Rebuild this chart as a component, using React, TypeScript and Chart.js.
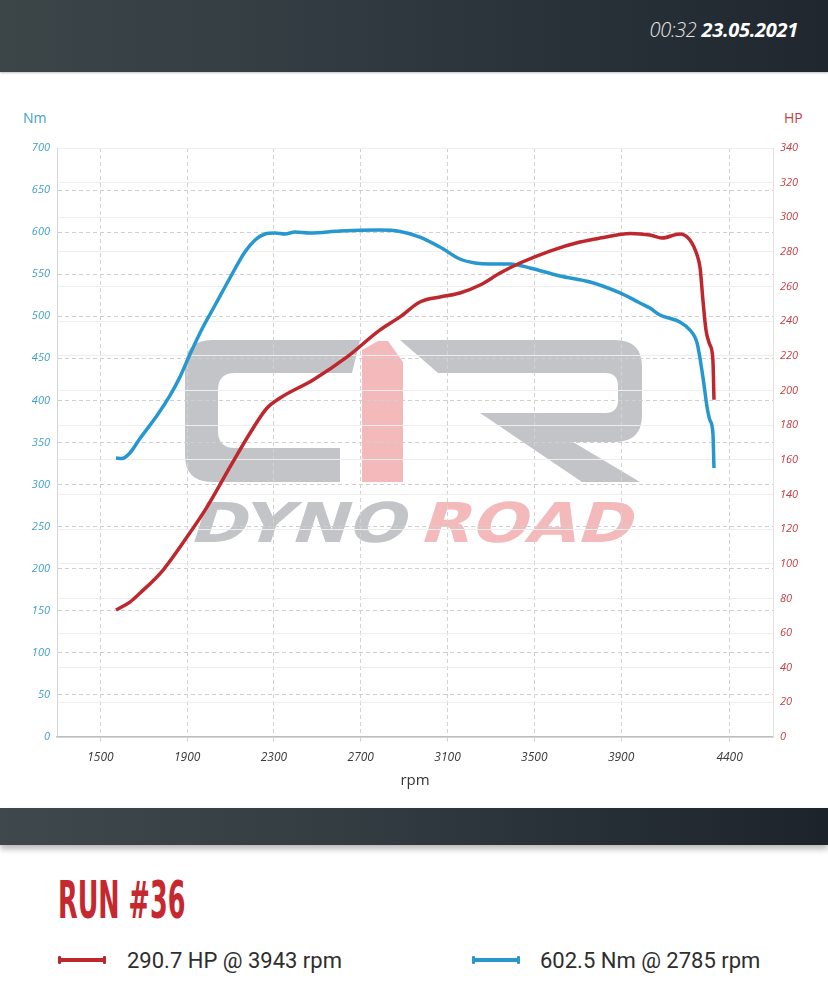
import React, { useEffect, useRef } from "react";
import { Chart, registerables } from "chart.js";

Chart.register(...registerables);

// ---- data ----
const torqueRpm = [1572, 1600, 1636, 1683, 1761, 1821, 1867, 1913, 1973, 2029, 2097, 2166, 2213, 2259, 2305, 2351, 2397, 2466, 2604, 2785, 2881, 2973, 3065, 3157, 3227, 3296, 3388, 3480, 3618, 3757, 3895, 3987, 4033, 4079, 4171, 4217, 4250, 4277, 4296, 4309, 4323, 4328];
const torqueNm = [331.6, 331.0, 337.5, 355.0, 382.0, 406.0, 428.0, 455.0, 487.3, 513.4, 545.5, 576.4, 590.7, 597.8, 599.0, 597.8, 600.2, 599.0, 601.4, 602.5, 600.8, 594.2, 582.3, 568.1, 563.3, 562.1, 562.1, 557.4, 547.9, 540.7, 527.7, 515.8, 509.8, 501.5, 493.2, 483.7, 468.2, 427.8, 392.2, 376.7, 361.3, 319.7];

const powerRpm = [1572, 1636, 1683, 1789, 1899, 1991, 2097, 2190, 2268, 2328, 2480, 2637, 2789, 2881, 2973, 3065, 3157, 3250, 3342, 3434, 3572, 3710, 3803, 3943, 4033, 4088, 4171, 4217, 4250, 4264, 4277, 4291, 4309, 4323, 4328];
const powerHp = [73.3, 77.9, 83.1, 96.4, 115.4, 132.7, 155.8, 175.5, 189.9, 195.7, 206.1, 219.4, 235.0, 242.5, 251.1, 254.0, 256.3, 260.9, 267.8, 273.6, 280.5, 285.7, 288.0, 290.7, 289.8, 288.0, 290.4, 286.9, 278.2, 270.7, 252.3, 235.0, 226.4, 217.7, 194.7];

const rpmTicks = [1500, 1900, 2300, 2700, 3100, 3500, 3900, 4400];
const rpmRange = [1300, 4600];
const nmRange = [0, 700];
const nmStep = 50;
const hpRange = [0, 340];
const hpStep = 20;

const runTitle = "RUN #36";
const runTime = "00:32";
const runDate = "23.05.2021";
const hpLegend = "290.7 HP @ 3943 rpm";
const nmLegend = "602.5 Nm @ 2785 rpm";

const BLUE = "#2797d0";
const RED = "#bd272d";
const BLUE_TXT = "#3f9fc9";
const RED_TXT = "#bf3f44";

const CANVAS_TOP = 100;

const logoPlugin = {
  id: "dynoLogo",
  beforeDraw(chart: any) {
    const ctx: CanvasRenderingContext2D = chart.ctx;
    const oy = -CANVAS_TOP;
    const gray = "#c3c4c8";
    const pink = "#f4b9ba";
    ctx.save();
    ctx.translate(0, oy);
    // C
    ctx.fillStyle = gray;
    ctx.beginPath();
    ctx.moveTo(360, 340);
    ctx.lineTo(212, 340);
    ctx.quadraticCurveTo(185, 340, 185, 367);
    ctx.lineTo(185, 455);
    ctx.quadraticCurveTo(185, 482, 212, 482);
    ctx.lineTo(340, 482);
    ctx.lineTo(340, 448);
    ctx.lineTo(235, 448);
    ctx.quadraticCurveTo(218, 448, 218, 431);
    ctx.lineTo(218, 390);
    ctx.quadraticCurveTo(218, 373, 235, 373);
    ctx.lineTo(352, 373);
    ctx.closePath();
    ctx.fill();
    // R
    ctx.beginPath();
    ctx.moveTo(400, 340);
    ctx.lineTo(615, 340);
    ctx.quadraticCurveTo(642, 340, 642, 367);
    ctx.lineTo(642, 415);
    ctx.quadraticCurveTo(642, 442, 615, 442);
    ctx.lineTo(573, 442);
    ctx.lineTo(640, 482);
    ctx.lineTo(582, 482);
    ctx.lineTo(480, 413);
    ctx.lineTo(605, 413);
    ctx.quadraticCurveTo(618, 413, 618, 400);
    ctx.lineTo(618, 386);
    ctx.quadraticCurveTo(618, 373, 605, 373);
    ctx.lineTo(438, 373);
    ctx.closePath();
    ctx.fill();
    // pink 1
    ctx.fillStyle = pink;
    ctx.beginPath();
    ctx.moveTo(362, 350);
    ctx.lineTo(378, 341);
    ctx.lineTo(388, 341);
    ctx.lineTo(403, 362);
    ctx.lineTo(403, 482);
    ctx.lineTo(362, 482);
    ctx.closePath();
    ctx.fill();
    // DYNO ROAD
    ctx.font = 'bold 55px "DejaVu Sans", sans-serif';
    const drawSkew = (text: string, x0: number, x1: number, base: number, color: string) => {
      const w = ctx.measureText(text).width;
      ctx.save();
      ctx.fillStyle = color;
      ctx.translate(x0, base);
      ctx.transform(1, 0, -0.32, 1, 0, 0);
      ctx.scale((x1 - x0) / w, 1);
      ctx.fillText(text, 0, 0);
      ctx.restore();
    };
    drawSkew("DYNO", 188, 404, 542, gray);
    drawSkew("ROAD", 418, 630, 542, pink);
    ctx.restore();
  },
};

function DynoChart() {
  const ref = useRef<HTMLCanvasElement | null>(null);
  useEffect(() => {
    if (!ref.current) return;
    const tickFont = { family: '"Open Sans", sans-serif', size: 11, style: "italic" as const };
    const chart = new Chart(ref.current, {
      type: "line",
      data: {
        datasets: [
          {
            label: "HP",
            data: powerRpm.map((r, i) => ({ x: r, y: powerHp[i] })),
            yAxisID: "y1",
            borderColor: RED,
            borderWidth: 3.5,
            pointRadius: 0,
            cubicInterpolationMode: "monotone",
            fill: false,
          },
          {
            label: "Nm",
            data: torqueRpm.map((r, i) => ({ x: r, y: torqueNm[i] })),
            yAxisID: "y",
            borderColor: BLUE,
            borderWidth: 3.5,
            pointRadius: 0,
            cubicInterpolationMode: "monotone",
            fill: false,
          },
        ],
      },
      options: {
        responsive: false,
        animation: false,
        layout: { padding: { top: 48, left: 0, right: 0, bottom: 0 } },
        plugins: { legend: { display: false }, tooltip: { enabled: false } },
        scales: {
          x: {
            type: "linear",
            min: rpmRange[0],
            max: rpmRange[1],
            afterBuildTicks: (s: any) => {
              s.ticks = rpmTicks.map((v) => ({ value: v }));
            },
            afterFit: (s: any) => {
              s.height = 63;
            },
            ticks: {
              callback: (v: any) => String(v),
              font: { ...tickFont, size: 12 },
              color: "#3a3a3a",
              padding: 7,
              maxRotation: 0,
              autoSkip: false,
            },
            grid: { color: "#d2d2d2", lineWidth: 1, drawTicks: true, tickLength: 6, tickColor: "#d2d2d2", tickBorderDash: [4, 3] },
            border: { color: "#bdbdbd", width: 1.5, dash: [4, 3] },
            title: {
              display: true,
              text: "rpm",
              color: "#333",
              font: { family: '"Open Sans", sans-serif', size: 15 },
              padding: { top: 0, bottom: 10 },
            },
          },
          y: {
            position: "left",
            min: nmRange[0],
            max: nmRange[1],
            afterFit: (s: any) => {
              s.width = 57;
            },
            ticks: {
              stepSize: nmStep,
              callback: (v: any) => String(v),
              font: tickFont,
              color: BLUE_TXT,
              padding: 7,
            },
            grid: { color: "#d0d0d0", lineWidth: 1, drawTicks: false },
            border: { color: "#d6d6d6", width: 1, dash: [4, 3] },
          },
          y1: {
            position: "right",
            min: hpRange[0],
            max: hpRange[1],
            afterFit: (s: any) => {
              s.width = 55;
            },
            ticks: {
              stepSize: hpStep,
              callback: (v: any) => String(v),
              font: tickFont,
              color: RED_TXT,
              padding: 7,
            },
            grid: { color: "#eeeeee", lineWidth: 1, drawTicks: false },
            border: { color: "#e2e2e2", width: 1 },
          },
        },
      } as any,
      plugins: [logoPlugin],
    });
    return () => chart.destroy();
  }, []);
  return <canvas ref={ref} width={828} height={700} style={{ display: "block", position: "absolute", left: 0, top: CANVAS_TOP }} />;
}

function LegendMark({ color, left }: { color: string; left: number }) {
  return (
    <div style={{ position: "absolute", left, top: 954, width: 48, height: 12 }}>
      <div style={{ position: "absolute", left: 0, top: 4, width: 48, height: 4, background: color }} />
      <div style={{ position: "absolute", left: 0, top: 2, width: 3, height: 8, background: color, borderRadius: 1 }} />
      <div style={{ position: "absolute", left: 45, top: 2, width: 3, height: 8, background: color, borderRadius: 1 }} />
    </div>
  );
}

export default function App() {
  return (
    <div
      style={{
        position: "absolute",
        left: 0,
        top: 0,
        width: 828,
        height: 991,
        overflow: "hidden",
        background: "#ffffff",
        fontFamily: '"Open Sans", sans-serif',
      }}
    >
      <div
        style={{
          position: "absolute",
          left: 0,
          top: 0,
          width: 828,
          height: 72,
          background: "linear-gradient(90deg, #3c4649 0%, #343e43 30%, #2b343b 60%, #20272f 100%)",
          boxShadow: "0 1px 2px rgba(0,0,0,0.25)",
        }}
      />
      <div
        style={{
          position: "absolute",
          right: 30,
          top: 20,
          lineHeight: "20px",
          fontSize: 20,
          fontStyle: "italic",
          color: "#ffffff",
          whiteSpace: "nowrap",
          letterSpacing: -0.3,
        }}
      >
        <span style={{ fontWeight: 300, color: "#e6e6e6" }}>{runTime}</span>{" "}
        <span style={{ fontWeight: 700 }}>{runDate}</span>
      </div>

      <div style={{ position: "absolute", left: 23, top: 111, fontSize: 14, lineHeight: "14px", color: BLUE_TXT }}>Nm</div>
      <div style={{ position: "absolute", left: 784, top: 111, fontSize: 14, lineHeight: "14px", color: RED_TXT }}>HP</div>

      <DynoChart />

      <div
        style={{
          position: "absolute",
          left: 0,
          top: 808,
          width: 828,
          height: 37,
          background: "linear-gradient(90deg, #3f494d 0%, #333d42 40%, #262e35 75%, #1d232b 100%)",
          boxShadow: "0 4px 6px rgba(0,0,0,0.28)",
        }}
      />

      <div
        style={{
          position: "absolute",
          left: 58,
          top: 874,
          fontFamily: '"Liberation Sans Narrow", "DejaVu Sans Condensed", sans-serif',
          fontWeight: 700,
          fontSize: 52,
          lineHeight: "52px",
          color: "#c5282e",
          whiteSpace: "nowrap",
          transform: "scaleX(0.545)",
          transformOrigin: "0 0",
        }}
      >
        {runTitle}
      </div>

      <LegendMark color={RED} left={58} />
      <div style={{ position: "absolute", left: 127, top: 950, fontFamily: "Roboto, sans-serif", fontSize: 22, lineHeight: "22px", color: "#2e2e2e", whiteSpace: "nowrap" }}>
        {hpLegend}
      </div>
      <LegendMark color={BLUE} left={472} />
      <div style={{ position: "absolute", left: 540, top: 950, fontFamily: "Roboto, sans-serif", fontSize: 22, lineHeight: "22px", color: "#2e2e2e", whiteSpace: "nowrap" }}>
        {nmLegend}
      </div>
    </div>
  );
}
